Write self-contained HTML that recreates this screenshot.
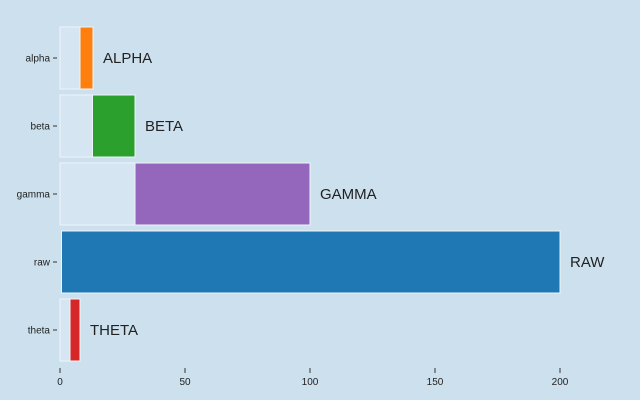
<!DOCTYPE html>
<html><head><meta charset="utf-8"><style>
body{margin:0;background:#cde0ee;}
svg{display:block;font-family:"Liberation Sans","DejaVu Sans",sans-serif;}
</style></head><body>
<svg id="c" width="640" height="400"></svg>
<script>
const categories=["alpha","beta","gamma","raw","theta"];
const starts=[8,13,30,0,4];
const ends=[13.2,30,100,200,8];
const labels=["ALPHA","BETA","GAMMA","RAW","THETA"];
const colors=["#ff7f0e","#2ca02c","#9467bd","#1f77b4","#d62728"];
const ticks=[0,50,100,150,200];
const svg=document.getElementById('c');
const NS="http://www.w3.org/2000/svg";
const x=v=>60+v*2.5;
const y=i=>24+i*68;
function mk(t,a){const e=document.createElementNS(NS,t);for(const k in a)e.setAttribute(k,a[k]);svg.appendChild(e);return e;}
categories.forEach((c,i)=>{
  const top=y(i)+3,h=62;
  if(starts[i]>0){
    const b=mk('rect',{x:x(0),y:top,width:x(starts[i])-x(0),height:h,fill:'#d5e5f2',stroke:'#eef4fa','stroke-width':1});
    
    
  }
  const r=mk('rect',{x:x(starts[i])+(starts[i]==0?1.5:0),y:top,width:x(ends[i])-x(starts[i])-(starts[i]==0?1.5:0),height:h,fill:colors[i],stroke:'#eef4fa','stroke-width':1});
  
  
  const t=mk('text',{x:x(ends[i])+10,y:top+h/2+5,'font-size':15,fill:'#222'});t.textContent=labels[i];
  
  
  const tk=mk('line',{x1:53,x2:57,y1:top+h/2,y2:top+h/2,stroke:'#333'});
  
  
  const yl=mk('text',{x:50,y:top+h/2+3.5,'font-size':10,fill:'#222','text-anchor':'end'});yl.textContent=c;
  
  
});
ticks.forEach(v=>{
  const l=mk('line',{x1:x(v),x2:x(v),y1:368,y2:373,stroke:'#333'});
  
  
  const t=mk('text',{x:x(v),y:385,'font-size':10,fill:'#222','text-anchor':'middle'});t.textContent=v;
  
  
});
</script>
</body></html>
